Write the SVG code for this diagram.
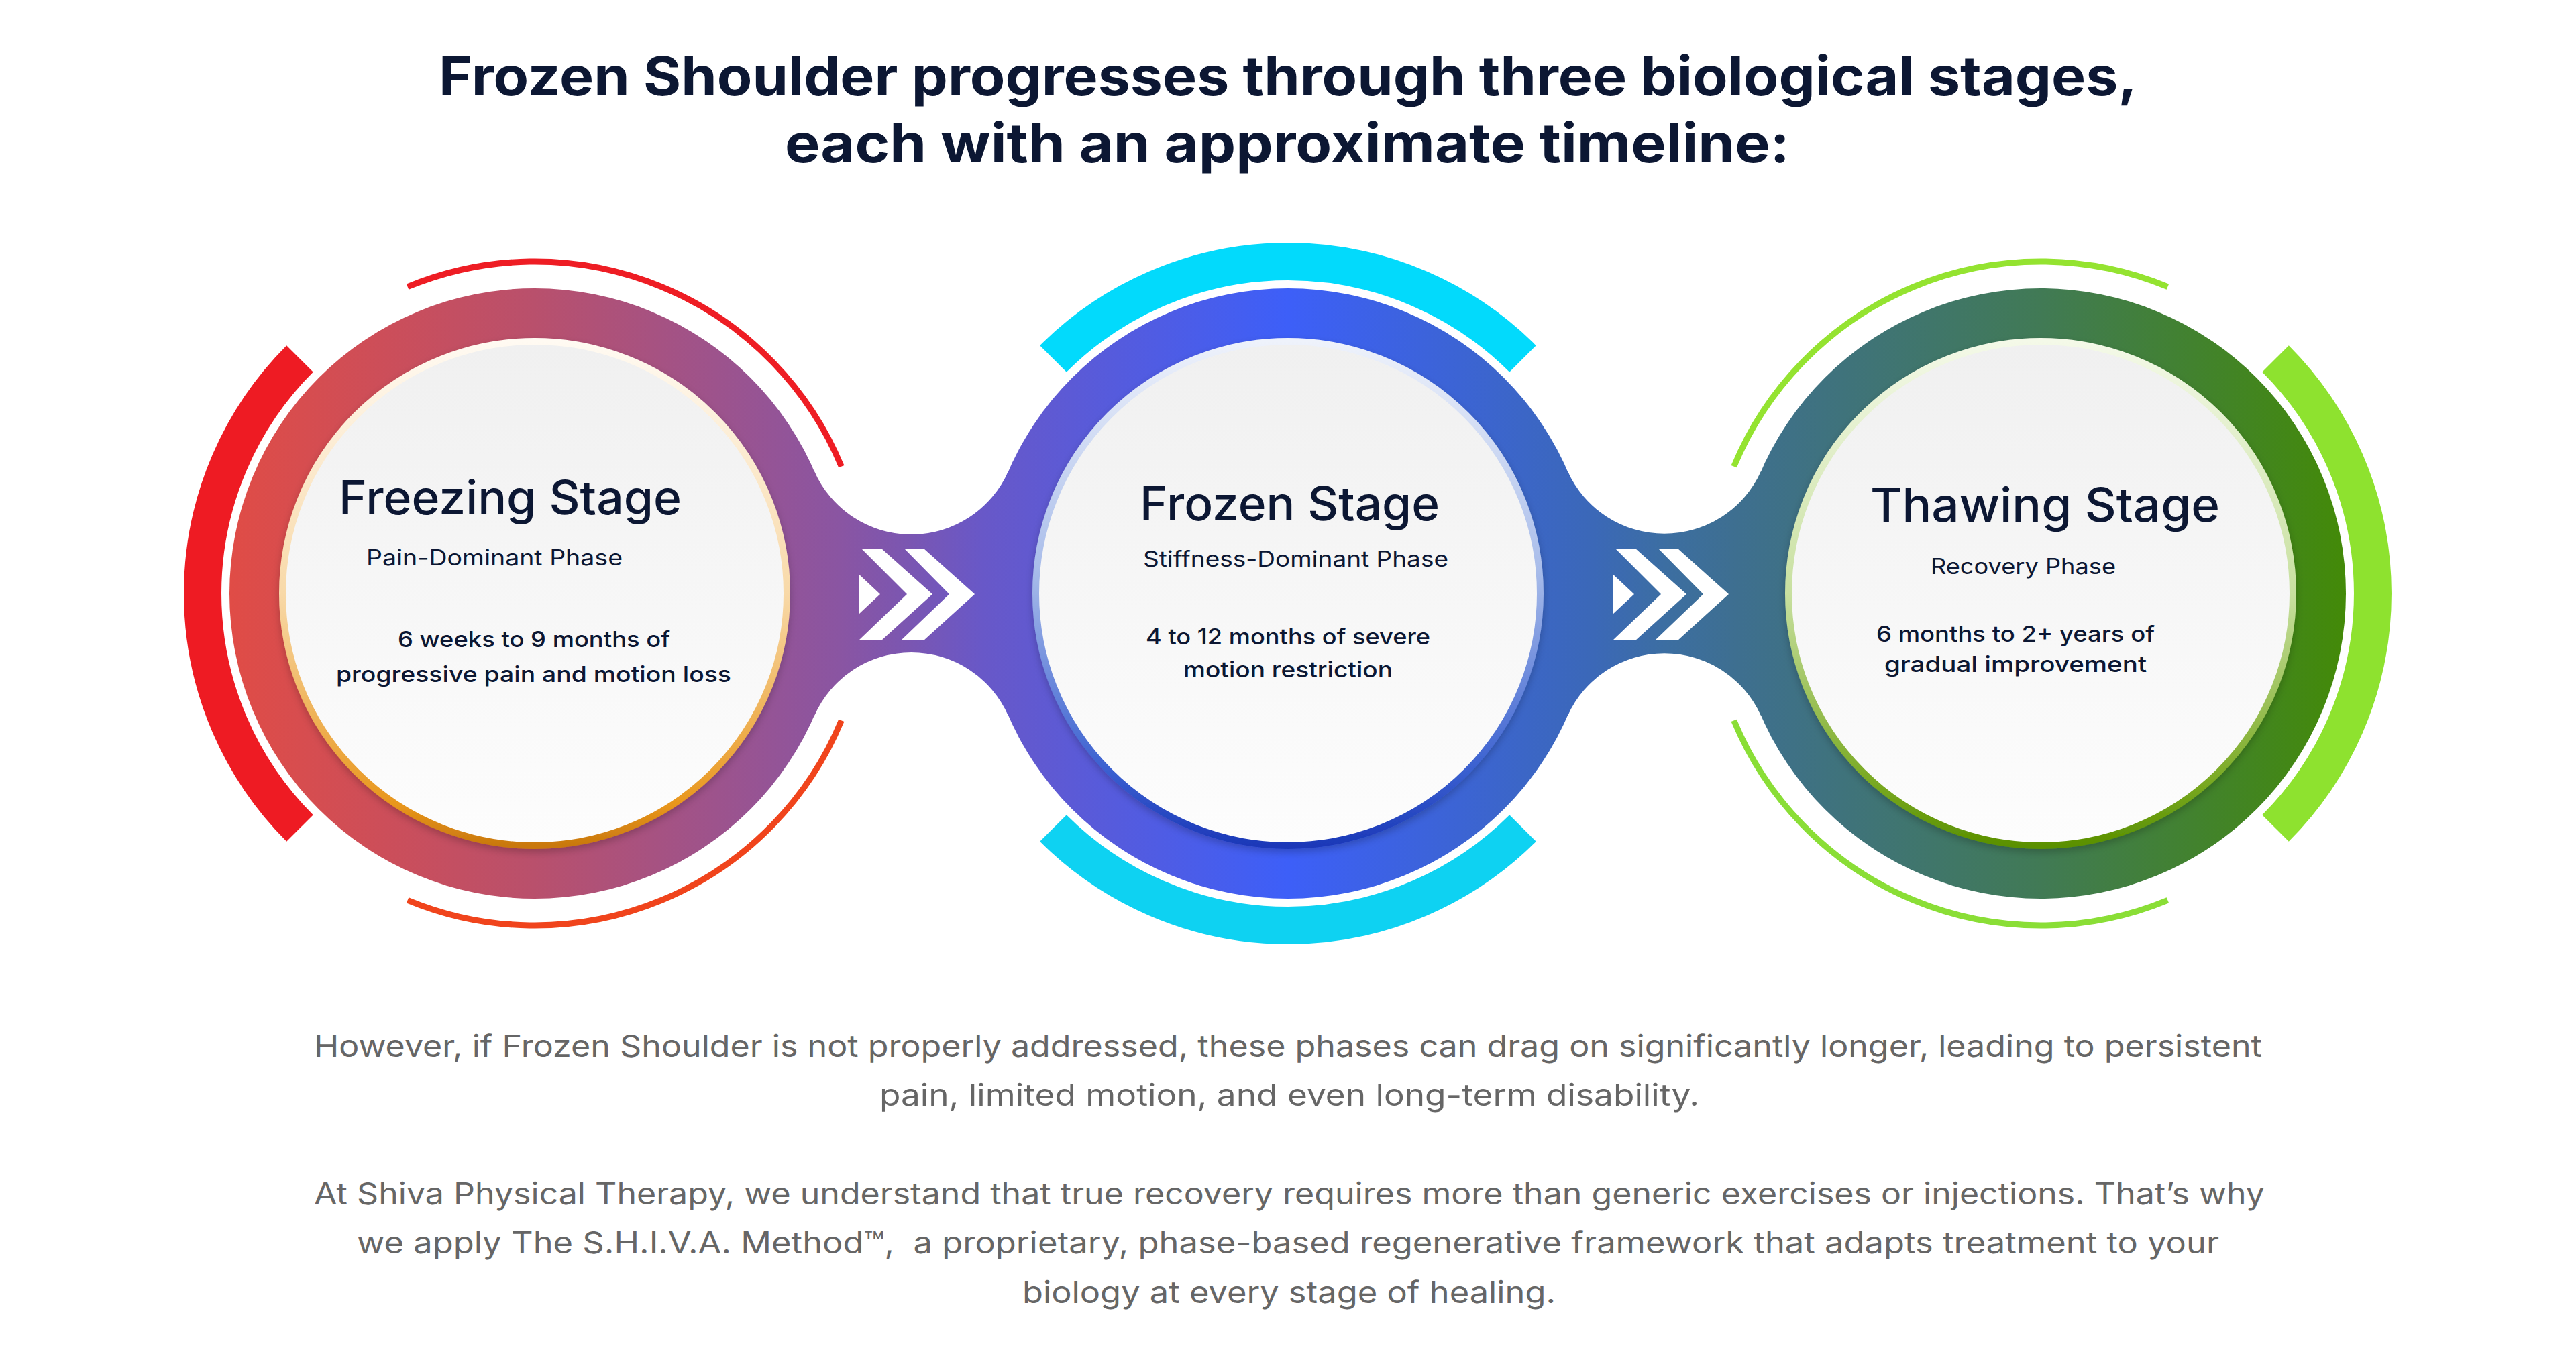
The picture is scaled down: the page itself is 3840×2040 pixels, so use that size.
<svg xmlns="http://www.w3.org/2000/svg" width="3840" height="2040" viewBox="0 0 3840 2040">
<style>
  text { font-family: Inter, "Open Sans", "Liberation Sans", sans-serif; }
  .title { font-size: 80px; font-weight: 700; fill: #0c1733; }
  .stage { font-size: 70px; font-weight: 500; fill: #0c1733; }
  .phase { font-size: 32px; font-weight: 400; fill: #0c1733; }
  .desc { font-size: 33px; font-weight: 500; fill: #0c1733; }
  .body { font-size: 45px; font-weight: 400; fill: #666666; }
  .thick { fill: none; stroke-width: 56; stroke-linecap: butt; }
  .thin { fill: none; stroke-width: 9; stroke-linecap: butt; }
  .face { fill: url(#face); stroke-width: 10; filter: url(#shadow); }
</style>
<defs>
  <linearGradient id="band" gradientUnits="userSpaceOnUse" x1="342" y1="0" x2="3497" y2="0">
    <stop offset="0" stop-color="#e04c46"/>
    <stop offset="0.144" stop-color="#b9506c"/>
    <stop offset="0.288" stop-color="#8a55a2"/>
    <stop offset="0.322" stop-color="#7a56b2"/>
    <stop offset="0.356" stop-color="#6858c8"/>
    <stop offset="0.5" stop-color="#3d5ff8"/>
    <stop offset="0.644" stop-color="#3b68b8"/>
    <stop offset="0.678" stop-color="#3c6ea2"/>
    <stop offset="0.712" stop-color="#3e6f90"/>
    <stop offset="0.856" stop-color="#417a55"/>
    <stop offset="1" stop-color="#438a08"/>
  </linearGradient>
  <linearGradient id="face" x1="0" y1="0" x2="0" y2="1">
    <stop offset="0" stop-color="#f0f0f0"/>
    <stop offset="1" stop-color="#fdfdfd"/>
  </linearGradient>
  <linearGradient id="rimOrange" x1="0" y1="0" x2="0" y2="1">
    <stop offset="0" stop-color="#fffaf2"/>
    <stop offset="0.5" stop-color="#f8d9a8"/>
    <stop offset="0.92" stop-color="#e8961c"/>
    <stop offset="1" stop-color="#c9780e"/>
  </linearGradient>
  <linearGradient id="rimBlue" x1="0" y1="0" x2="0" y2="1">
    <stop offset="0" stop-color="#eef2fb"/>
    <stop offset="0.45" stop-color="#a9bdea"/>
    <stop offset="0.85" stop-color="#3a60d0"/>
    <stop offset="1" stop-color="#1b38b8"/>
  </linearGradient>
  <linearGradient id="rimGreen" x1="0" y1="0" x2="0" y2="1">
    <stop offset="0" stop-color="#f4f9e8"/>
    <stop offset="0.5" stop-color="#c8e0a0"/>
    <stop offset="0.88" stop-color="#78a820"/>
    <stop offset="1" stop-color="#5a9000"/>
  </linearGradient>
  <filter id="shadow" x="-10%" y="-10%" width="120%" height="125%">
    <feDropShadow dx="0" dy="5" stdDeviation="6" flood-color="#000000" flood-opacity="0.22"/>
  </filter>
  <path id="chev" d="M0,-30 L32,0 L0,30 Z M4,-68 L34,-68 L110,0 L34,69 L0,69 L72,0 Z M68,-68 L97,-68 L173,0 L97,69 L63,69 L135,0 Z"/>
</defs>

<rect x="0" y="0" width="3840" height="2040" fill="#ffffff"/>

<g id="heading">
  <text class="title" x="654" y="142" textLength="2532" lengthAdjust="spacingAndGlyphs">Frozen Shoulder progresses through three biological stages,</text>
  <text class="title" x="1170" y="242" textLength="1498" lengthAdjust="spacingAndGlyphs">each with an approximate timeline:</text>
</g>

<g id="band-rings">
  <circle cx="797" cy="885" r="455" fill="url(#band)"/>
  <circle cx="1920" cy="885" r="455" fill="url(#band)"/>
  <circle cx="3042" cy="885" r="455" fill="url(#band)"/>
</g>

<g id="connectors">
  <path d="M1213.8,702.4 A158,158 0 0 0 1503.2,702.4 L1503.2,1067.6 A158,158 0 0 0 1213.8,1067.6 Z" fill="url(#band)"/>
  <path d="M2336.8,702.4 A158,158 0 0 0 2625.2,702.4 L2625.2,1067.6 A158,158 0 0 0 2336.8,1067.6 Z" fill="url(#band)"/>
  <use href="#chev" transform="translate(1280,886)" fill="#ffffff"/>
  <use href="#chev" transform="translate(2404,886)" fill="#ffffff"/>
</g>

<g id="stage-freezing">
  <path class="thick" stroke="#ee1b23" d="M447,1235 A495,495 0 0 1 447,535"/>
  <path class="thin" stroke="#ee1d24" d="M607.6,427.7 A495,495 0 0 1 1254.3,695.6"/>
  <path class="thin" stroke="#f0441c" d="M1254.3,1074.4 A495,495 0 0 1 607.6,1342.3"/>
  <circle class="face" cx="797" cy="885" r="376" stroke="url(#rimOrange)"/>
  <text class="stage" x="505" y="767" textLength="511" lengthAdjust="spacingAndGlyphs">Freezing Stage</text>
  <text class="phase" x="546" y="843" textLength="382" lengthAdjust="spacingAndGlyphs">Pain-Dominant Phase</text>
  <text class="desc" x="593" y="965" textLength="406" lengthAdjust="spacingAndGlyphs">6 weeks to 9 months of</text>
  <text class="desc" x="501" y="1017" textLength="589" lengthAdjust="spacingAndGlyphs">progressive pain and motion loss</text>
</g>

<g id="stage-frozen">
  <path class="thick" stroke="#02dafc" d="M1570,535 A495,495 0 0 1 2270,535"/>
  <path class="thick" stroke="#0ed2f2" d="M2270,1235 A495,495 0 0 1 1570,1235"/>
  <circle class="face" cx="1920" cy="885" r="376" stroke="url(#rimBlue)"/>
  <text class="stage" x="1699" y="776" textLength="447" lengthAdjust="spacingAndGlyphs">Frozen Stage</text>
  <text class="phase" x="1704" y="845" textLength="455" lengthAdjust="spacingAndGlyphs">Stiffness-Dominant Phase</text>
  <text class="desc" x="1708" y="961" textLength="424" lengthAdjust="spacingAndGlyphs">4 to 12 months of severe</text>
  <text class="desc" x="1764" y="1010" textLength="312" lengthAdjust="spacingAndGlyphs">motion restriction</text>
</g>

<g id="stage-thawing">
  <path class="thick" stroke="#8ee22f" d="M3392,535 A495,495 0 0 1 3392,1235"/>
  <path class="thin" stroke="#94e330" d="M2584.7,695.6 A495,495 0 0 1 3231.4,427.7"/>
  <path class="thin" stroke="#8ade36" d="M3231.4,1342.3 A495,495 0 0 1 2584.7,1074.4"/>
  <circle class="face" cx="3042" cy="885" r="376" stroke="url(#rimGreen)"/>
  <text class="stage" x="2788" y="778" textLength="521" lengthAdjust="spacingAndGlyphs">Thawing Stage</text>
  <text class="phase" x="2878" y="856" textLength="276" lengthAdjust="spacingAndGlyphs">Recovery Phase</text>
  <text class="desc" x="2797" y="957" textLength="415" lengthAdjust="spacingAndGlyphs">6 months to 2+ years of</text>
  <text class="desc" x="2809" y="1002" textLength="391" lengthAdjust="spacingAndGlyphs">gradual improvement</text>
</g>

<g id="body-text">
  <text class="body" x="468" y="1576" textLength="2904" lengthAdjust="spacingAndGlyphs">However, if Frozen Shoulder is not properly addressed, these phases can drag on significantly longer, leading to persistent</text>
  <text class="body" x="1311" y="1649" textLength="1222" lengthAdjust="spacingAndGlyphs">pain, limited motion, and even long-term disability.</text>
  <text class="body" x="468" y="1796" textLength="2908" lengthAdjust="spacingAndGlyphs">At Shiva Physical Therapy, we understand that true recovery requires more than generic exercises or injections. That’s why</text>
  <text class="body" x="532" y="1869" textLength="2776" lengthAdjust="spacingAndGlyphs">we apply The S.H.I.V.A. Method™,&#160; a proprietary, phase-based regenerative framework that adapts treatment to your</text>
  <text class="body" x="1524" y="1943" textLength="795" lengthAdjust="spacingAndGlyphs">biology at every stage of healing.</text>
</g>
</svg>
